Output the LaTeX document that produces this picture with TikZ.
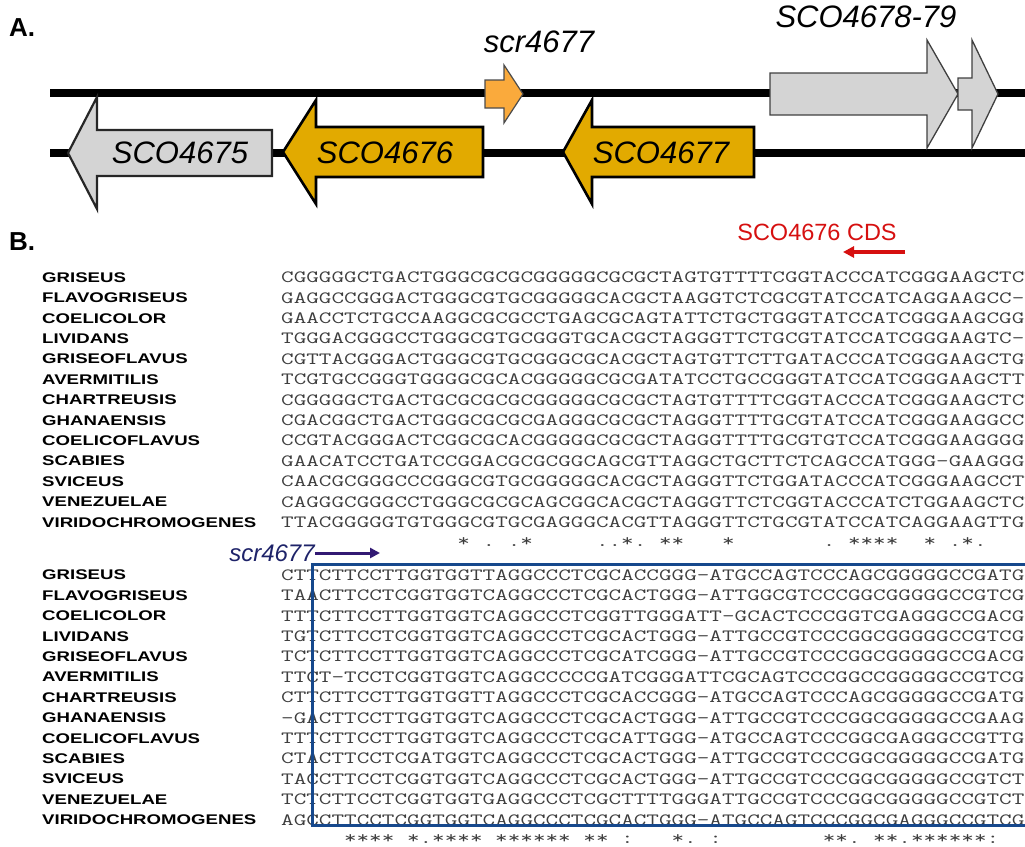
\documentclass[tikz,border=0pt]{standalone}
\usepackage{fontspec}
\setmainfont{Liberation Sans}
\usepackage{graphicx}
\usetikzlibrary{arrows.meta}
\definecolor{goldfill}{RGB}{226,170,0}
\definecolor{grayfill}{RGB}{212,212,212}
\definecolor{orangefill}{RGB}{250,170,60}
\definecolor{cdsred}{RGB}{214,16,16}
\definecolor{boxblue}{RGB}{22,72,140}
\definecolor{scrnavy}{RGB}{30,35,105}
\definecolor{scrarrow}{RGB}{50,25,115}
\definecolor{seqgray}{RGB}{62,62,62}
\newcommand{\seqtxt}[1]{\scalebox{1.422}[1]{\fontsize{17.2}{17.2}\selectfont\ttfamily#1}}
\newcommand{\sptxt}[1]{\scalebox{1.33}[1]{\fontsize{14}{14}\selectfont\bfseries#1}}
\newcommand{\genearrow}[7]{%
  \draw[#1] (#2,{#5-#6}) -- (#3,{#5-#6}) -- (#3,{#5-#7}) -- (#4,#5)
    -- (#3,{#5+#7}) -- (#3,{#5+#6}) -- (#2,{#5+#6}) -- cycle;}
\tikzset{
chrom/.style={line width=7.5pt,black},
genegold/.style={draw=black,fill=goldfill,line width=2.6pt,line join=miter},
genegray/.style={draw=black!85,fill=grayfill,line width=2.2pt,line join=miter},
genelight/.style={draw=black!75,fill=grayfill,line width=1.3pt,line join=miter},
geneorange/.style={draw=black!70,fill=orangefill,line width=1.2pt,line join=miter},
genelabel/.style={inner sep=0pt,font=\fontsize{31}{31}\selectfont\itshape},
panel/.style={inner sep=0pt,anchor=west,font=\fontsize{26}{26}\selectfont\bfseries},
spname/.style={inner sep=0pt,anchor=west},
seqline/.style={inner sep=0pt,anchor=west,text=seqgray},
consmark/.style={inner sep=0pt,anchor=base,text=seqgray},
cdsarr/.style={-{Triangle[length=11pt,width=11pt]},line width=3.5pt,cdsred},
scrarr/.style={-{Triangle[length=10pt,width=10pt]},line width=3pt,scrarrow},
blockbox/.style={draw=boxblue,line width=3pt}
}
\begin{document}
\begin{tikzpicture}[x=1pt,y=-1pt]
\useasboundingbox (0,0) rectangle (1025,846);
\clip (0,0) rectangle (1025,846);
% panel A: gene map
\node[panel] (pa) at (9,28) {A.};
\draw[chrom] (50,93) -- (1025,93);
\draw[chrom] (50,153) -- (1025,153);
\genearrow{genegray}{272}{97}{68}{153}{23}{56}
\genearrow{genegold}{483}{316}{283}{152}{25}{52}
\genearrow{genegold}{754}{592}{563}{152}{25}{52}
\genearrow{geneorange}{485}{504}{523}{94}{14}{29}
\genearrow{genelight}{770}{927}{958}{94}{21}{54}
\genearrow{genelight}{958}{972}{998}{94}{16}{54}
\node[genelabel] (g75) at (180,153) {SCO4675};
\node[genelabel] (g76) at (385,153) {SCO4676};
\node[genelabel] (g77) at (661,153) {SCO4677};
\node[genelabel] (scr) at (539,42) {scr4677};
\node[genelabel] (g7879) at (866,17) {SCO4678-79};
% panel B: alignment
\node[panel] (pb) at (9,242) {B.};
\node[inner sep=0pt,text=cdsred,font=\fontsize{23.5}{23.5}\selectfont] (cds) at (817,232) {SCO4676 CDS};
\coordinate (cdsa) at (905,252);
\coordinate (cdsb) at (843,252);
\draw[cdsarr] (cdsa) -- (cdsb);
\foreach \sp/\sq [count=\i] in {
  GRISEUS/CGGGGGCTGACTGGGCGCGCGGGGGCGCGCTAGTGTTTTCGGTACCCATCGGGAAGCTCT,
  FLAVOGRISEUS/GAGGCCGGGACTGGGCGTGCGGGGGCACGCTAAGGTCTCGCGTATCCATCAGGAAGCC-C,
  COELICOLOR/GAACCTCTGCCAAGGCGCGCCTGAGCGCAGTATTCTGCTGGGTATCCATCGGGAAGCGGC,
  LIVIDANS/TGGGACGGGCCTGGGCGTGCGGGTGCACGCTAGGGTTCTGCGTATCCATCGGGAAGTC-C,
  GRISEOFLAVUS/CGTTACGGGACTGGGCGTGCGGGCGCACGCTAGTGTTCTTGATACCCATCGGGAAGCTGT,
  AVERMITILIS/TCGTGCCGGGTGGGGCGCACGGGGGCGCGATATCCTGCCGGGTATCCATCGGGAAGCTTT,
  CHARTREUSIS/CGGGGGCTGACTGCGCGCGCGGGGGCGCGCTAGTGTTTTCGGTACCCATCGGGAAGCTCT,
  GHANAENSIS/CGACGGCTGACTGGGCGCGCGAGGGCGCGCTAGGGTTTTGCGTATCCATCGGGAAGGCC-,
  COELICOFLAVUS/CCGTACGGGACTCGGCGCACGGGGGCGCGCTAGGGTTTTGCGTGTCCATCGGGAAGGGGC,
  SCABIES/GAACATCCTGATCCGGACGCGCGGCAGCGTTAGGCTGCTTCTCAGCCATGGG-GAAGGGC,
  SVICEUS/CAACGCGGGCCCGGGCGTGCGGGGGCACGCTAGGGTTCTGGATACCCATCGGGAAGCCTT,
  VENEZUELAE/CAGGGCGGGCCTGGGCGCGCAGCGGCACGCTAGGGTTCTCGGTACCCATCTGGAAGCTCT,
  VIRIDOCHROMOGENES/TTACGGGGGTGTGGGCGTGCGAGGGCACGTTAGGGTTCTGCGTATCCATCAGGAAGTTGC}
{
  \node[spname] (ta\i) at (42,{277.5+20.4*(\i-1)}) {\sptxt{\sp}};
  \node[seqline] (sa\i) at (281,{277.5+20.4*(\i-1)}) {\seqtxt{\sq}};
}
\foreach \c/\m in {15/*,17/.,19/.,20/*,26/.,27/.,28/*,29/.,31/*,32/*,36/*,44/.,
  46/*,47/*,48/*,49/*,52/*,54/.,55/*,56/.}
  \node[consmark] (ca\c) at ({281+(\c-0.5)*12.6},546) {\seqtxt{\m}};
% second block
\node[inner sep=0pt,text=scrnavy,font=\fontsize{24}{24}\selectfont\itshape] (scrb) at (272,553) {scr4677};
\coordinate (scrtip) at (380,553);
\draw[scrarr] (scrb.east) -- (scrtip);
\foreach \sp/\sq [count=\i] in {
  GRISEUS/CTTCTTCCTTGGTGGTTAGGCCCTCGCACCGGG-ATGCCAGTCCCAGCGGGGGCCGATG,
  FLAVOGRISEUS/TAACTTCCTCGGTGGTCAGGCCCTCGCACTGGG-ATTGGCGTCCCGGCGGGGGCCGTCG,
  COELICOLOR/TTTCTTCCTTGGTGGTCAGGCCCTCGGTTGGGATT-GCACTCCCGGTCGAGGGCCGACG,
  LIVIDANS/TGTCTTCCTCGGTGGTCAGGCCCTCGCACTGGG-ATTGCCGTCCCGGCGGGGGCCGTCG,
  GRISEOFLAVUS/TCTCTTCCTTGGTGGTCAGGCCCTCGCATCGGG-ATTGCCGTCCCGGCGGGGGCCGACG,
  AVERMITILIS/TTCT-TCCTCGGTGGTCAGGCCCCCGATCGGGATTCGCAGTCCCGGCCGGGGGCCGTCG,
  CHARTREUSIS/CTTCTTCCTTGGTGGTTAGGCCCTCGCACCGGG-ATGCCAGTCCCAGCGGGGGCCGATG,
  GHANAENSIS/-GACTTCCTTGGTGGTCAGGCCCTCGCACTGGG-ATTGCCGTCCCGGCGGGGGCCGAAG,
  COELICOFLAVUS/TTTCTTCCTTGGTGGTCAGGCCCTCGCATTGGG-ATGCCAGTCCCGGCGAGGGCCGTTG,
  SCABIES/CTACTTCCTCGATGGTCAGGCCCTCGCACTGGG-ATTGCCGTCCCGGCGGGGGCCGATG,
  SVICEUS/TACCTTCCTCGGTGGTCAGGCCCTCGCACTGGG-ATTGCCGTCCCGGCGGGGGCCGTCT,
  VENEZUELAE/TCTCTTCCTCGGTGGTGAGGCCCTCGCTTTTGGGATTGCCGTCCCGGCGGGGGCCGTCT,
  VIRIDOCHROMOGENES/AGCCTTCCTCGGTGGTCAGGCCCTCGCACTGGG-ATGCCAGTCCCGGCGAGGGCCGTCG}
{
  \node[spname] (tb\i) at (42,{575+20.4*(\i-1)}) {\sptxt{\sp}};
  \node[seqline] (sb\i) at (281,{575+20.4*(\i-1)}) {\seqtxt{\sq}};
}
\foreach \c/\m in {6/*,7/*,8/*,9/*,11/*,12/.,13/*,14/*,15/*,16/*,18/*,19/*,20/*,21/*,
  22/*,23/*,25/*,26/*,28/:,32/*,33/.,35/:,44/*,45/*,46/.,48/*,49/*,50/.,51/*,52/*,
  53/*,54/*,55/*,56/*,57/:}
  \node[consmark] (cb\c) at ({281+(\c-0.5)*12.6},843) {\seqtxt{\m}};
\draw[blockbox] (1040,564) -- (312,564) -- (312,825) -- (1040,825);
\end{tikzpicture}
\end{document}
